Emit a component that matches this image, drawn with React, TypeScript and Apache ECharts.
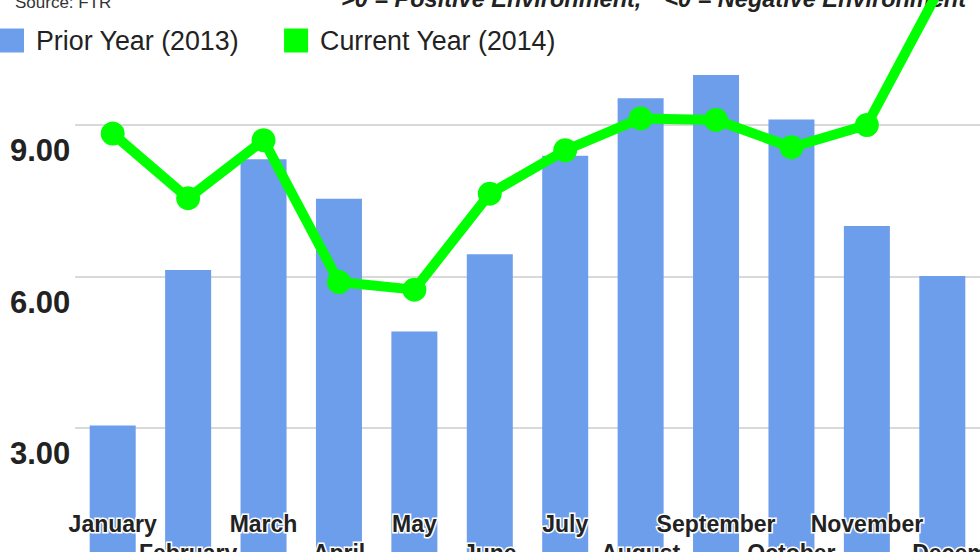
import { useEffect, useRef } from 'react';
import * as echarts from 'echarts';

const months = ['January', 'February', 'March', 'April', 'May', 'June', 'July', 'August', 'September', 'October', 'November', 'December'];
const priorYear2013 = [3.05, 6.13, 8.32, 7.54, 4.91, 6.44, 8.39, 9.53, 9.99, 9.11, 7.0, 6.01];
const currentYear2014 = [8.83, 7.55, 8.7, 5.89, 5.74, 7.64, 8.5, 9.13, 9.1, 8.56, 9.0, 11.8];
const seriesNames = ['Prior Year (2013)', 'Current Year (2014)'];
const sourceNote = 'Source: FTR';
const noteLeft = '>0 = Positive Environment,';
const noteRight = '<0 = Negative Environment';
const yMin = 0;
const yMax = 12;
const yStep = 3;

const FONT = '"Liberation Sans", Arial, sans-serif';

export default function App() {
  const ref = useRef<HTMLDivElement>(null);
  useEffect(() => {
    const chart = echarts.init(ref.current!, null, { renderer: 'svg' });
    const labelBase = {
      fontSize: 23,
      fontWeight: 'bold',
      color: '#222',
      fontFamily: FONT,
      textBorderColor: '#fff',
      textBorderWidth: 3,
      lineHeight: 29,
    };
    chart.setOption({
      animation: false,
      backgroundColor: '#fff',
      textStyle: { fontFamily: FONT },
      grid: { left: 75, right: 0, top: -26.5, bottom: -27.5, containLabel: false, outerBoundsMode: 'none' },
      legend: {
        left: 0,
        top: 27,
        padding: 0,
        itemWidth: 24,
        itemHeight: 24,
        itemGap: 45,
        icon: 'rect',
        data: seriesNames,
        textStyle: { fontSize: 26.8, color: '#222', fontFamily: FONT, padding: [0, 0, 0, 7] },
      },
      graphic: [
        { type: 'text', x: 15, y: 2, style: { text: sourceNote, font: `17px ${FONT}`, fill: '#333', verticalAlign: 'middle' } },
        { type: 'text', x: 341, y: -1, style: { text: noteLeft, font: `italic bold 23.5px ${FONT}`, fill: '#222', verticalAlign: 'middle' } },
        { type: 'text', x: 966, y: -1, style: { text: noteRight, font: `italic bold 23.5px ${FONT}`, fill: '#222', verticalAlign: 'middle', align: 'right' } },
      ],
      xAxis: {
        type: 'category',
        data: months,
        z: 10,
        axisLine: { show: false },
        axisTick: { show: false },
        axisLabel: {
          ...labelBase,
          inside: true,
          interval: 0,
          margin: 12,
          verticalAlign: 'bottom',
          formatter: (value: string, index: number) => {
            if (index === months.length - 1) return `{d|${value}}`;
            return index % 2 === 0 ? `${value}\n ` : value;
          },
          rich: {
            d: { ...labelBase, padding: [0, 0, 0, 51] },
          },
        },
      },
      yAxis: {
        type: 'value',
        min: yMin,
        max: yMax,
        interval: yStep,
        axisLine: { show: false },
        axisTick: { show: false },
        splitLine: { lineStyle: { color: '#cccccc', width: 1.5 } },
        axisLabel: {
          align: 'left',
          margin: 65,
          fontSize: 31,
          fontWeight: 'bold',
          color: '#222',
          fontFamily: FONT,
          lineHeight: 51,
          verticalAlign: 'middle',
          formatter: (v: number) => (v === yMin || v === yMax ? '' : `\u00a0\n${v.toFixed(2)}`),
        },
      },
      series: [
        {
          name: seriesNames[0],
          type: 'bar',
          data: priorYear2013,
          barWidth: '61%',
          itemStyle: { color: '#6d9eeb' },
        },
        {
          name: seriesNames[1],
          type: 'line',
          data: currentYear2014,
          z: 5,
          symbol: 'circle',
          symbolSize: 24,
          showAllSymbol: true,
          itemStyle: { color: '#00ff00' },
          lineStyle: { color: '#00ff00', width: 10 },
        },
      ],
    });
    return () => chart.dispose();
  }, []);
  return <div ref={ref} style={{ position: 'fixed', left: 0, top: 0, width: 980, height: 552, background: '#fff' }} />;
}
